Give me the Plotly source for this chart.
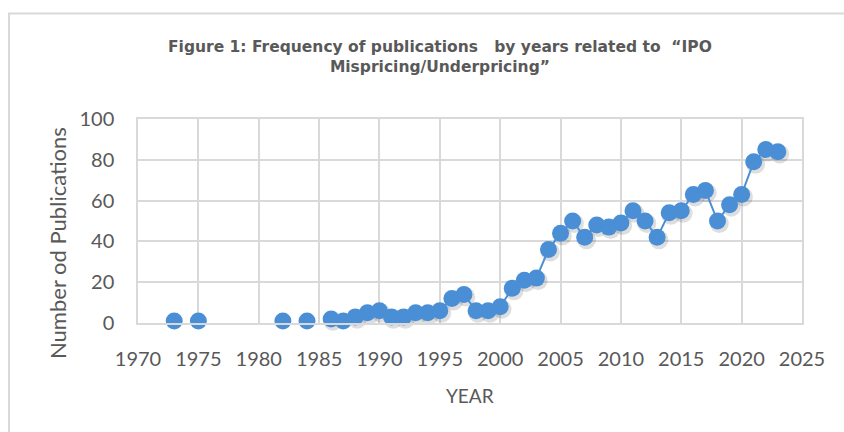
import plotly.graph_objects as go

# Data (None = no publication year / gap)
years = list(range(1973, 2024))
publications = [
    1, None, 1, None, None, None, None, None, None, 1, None, 1, None,  # 1973-1985
    2, 1, 3, 5, 6, 3, 3, 5, 5, 6,                                   # 1986-1995
    12, 14, 6, 6, 8, 17, 21, 22, 36, 44,                            # 1996-2005
    50, 42, 48, 47, 49, 55, 50, 42, 54, 55,                         # 2006-2015
    63, 65, 50, 58, 63, 79, 85, 84,                                 # 2016-2023
]
x_ticks = list(range(1970, 2030, 5))
y_ticks = list(range(0, 120, 20))

TEXT = "#595959"
GRID = "#D9D9D9"
BLUE = "#4A8FD6"
FONT = "Lato"

fig = go.Figure()

# soft shadow under the markers
fig.add_trace(go.Scatter(
    x=[x + 0.15 if v is not None else x for x, v in zip(years, publications)],
    y=[v - 1.2 if v is not None else None for v in publications],
    mode="markers",
    marker=dict(size=19, color="rgba(0,0,0,0.13)", line=dict(width=0)),
    hoverinfo="skip", showlegend=False, cliponaxis=False,
))

fig.add_trace(go.Scatter(
    x=years, y=publications,
    mode="lines+markers",
    line=dict(color=BLUE, width=2),
    marker=dict(size=17, color=BLUE, line=dict(width=0)),
    connectgaps=False, showlegend=False, cliponaxis=False,
))

fig.update_xaxes(
    range=[1970, 2025], tickvals=x_ticks, ticktext=[str(t) for t in x_ticks],
    showgrid=True, gridcolor=GRID, gridwidth=1.5, zeroline=False,
    showline=True, linecolor=GRID, linewidth=1.5, mirror=True,
    ticks="", ticklabelstandoff=17,
    tickfont=dict(family=FONT, size=20, color=TEXT),
)
fig.update_yaxes(
    range=[0, 100], tickvals=y_ticks,
    showgrid=True, gridcolor=GRID, gridwidth=1.5, zeroline=False,
    showline=True, linecolor=GRID, linewidth=1.5, mirror=True,
    ticks="", ticklabelstandoff=18,
    tickfont=dict(family=FONT, size=20, color=TEXT),
)

W, H = 844, 432
L, R, T, B = 138, 42, 119, 109
pw, ph = W - L - R, H - T - B

def px(x):
    return (x - L) / pw

def py(y):
    return (H - B - y) / ph

fig.update_layout(
    width=W, height=H,
    margin=dict(l=L, r=R, t=T, b=B),
    paper_bgcolor="white", plot_bgcolor="white",
    annotations=[
        dict(text="<b>Figure 1: Frequency of publications   by years related to  \u201cIPO<br>Mispricing/Underpricing\u201d</b>",
             x=px(440), y=py(57), xref="paper", yref="paper",
             xanchor="center", yanchor="middle", showarrow=False,
             font=dict(family="DejaVu Sans", size=15.5, color=TEXT)),
        dict(text="Number od Publications", textangle=-90,
             x=px(57), y=py(243), xref="paper", yref="paper",
             xanchor="center", yanchor="middle", showarrow=False,
             font=dict(family=FONT, size=22, color=TEXT)),
        dict(text="YEAR",
             x=px(470), y=py(395), xref="paper", yref="paper",
             xanchor="center", yanchor="middle", showarrow=False,
             font=dict(family=FONT, size=19, color=TEXT)),
    ],
    shapes=[
        dict(type="line", xref="paper", yref="paper",
             x0=px(8), x1=px(850), y0=py(13.5), y1=py(13.5),
             line=dict(color=GRID, width=2)),
        dict(type="line", xref="paper", yref="paper",
             x0=px(9), x1=px(9), y0=py(13.5), y1=py(440),
             line=dict(color=GRID, width=2)),
    ],
)

fig.write_html(
    "out.html",
    config={"displayModeBar": False},
    post_script="document.body.style.margin='0';document.body.style.overflow='hidden';",
)
